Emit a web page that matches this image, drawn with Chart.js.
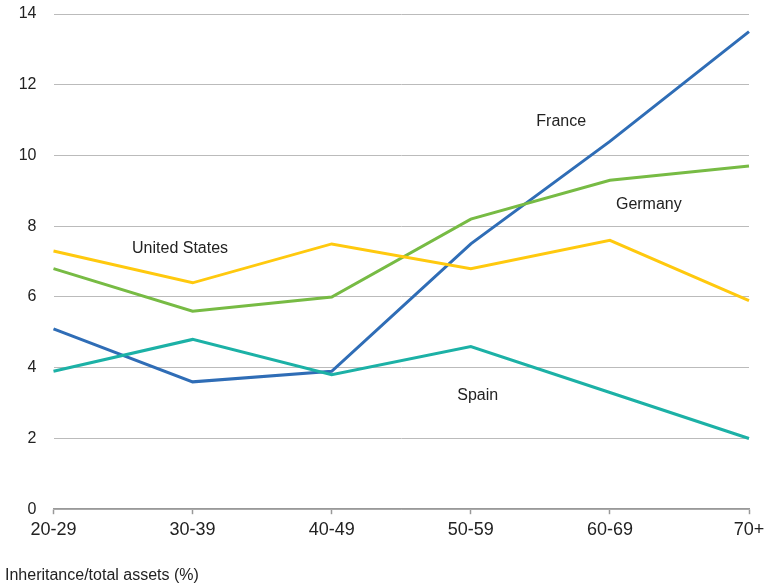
<!DOCTYPE html>
<html>
<head>
<meta charset="utf-8">
<script src="https://cdn.jsdelivr.net/npm/chart.js@4.4.1/dist/chart.umd.min.js"></script>
<style>
  html, body { margin: 0; padding: 0; background: #fff; }
  #wrap { width: 778px; height: 585px; }
</style>
</head>
<body>
<div id="wrap"><canvas id="chart" width="778" height="585"></canvas></div>
<script>
// age groups and inheritance share (%) by country
const ageGroups = ["20-29", "30-39", "40-49", "50-59", "60-69", "70+"];
const france = [5.1, 3.6, 3.9, 7.5, 10.4, 13.5];
const germany = [6.8, 5.6, 6.0, 8.2, 9.3, 9.7];
const unitedStates = [7.3, 6.4, 7.5, 6.8, 7.6, 5.9];
const spain = [3.9, 4.8, 3.8, 4.6, 3.3, 2.0];
const yTicks = [0, 2, 4, 6, 8, 10, 12, 14];

// in-chart series labels, placed in data units
const seriesLabels = [
  { text: "France", x: 3.65, y: 10.95 },
  { text: "Germany", x: 4.28, y: 8.6 },
  { text: "United States", x: 0.91, y: 7.37 },
  { text: "Spain", x: 3.05, y: 3.22 }
];

const FONT = "'Liberation Sans', Arial, sans-serif";

const labelPlugin = {
  id: "seriesLabels",
  afterDatasetsDraw(chart) {
    const { ctx, scales } = chart;
    ctx.save();
    ctx.font = "16px " + FONT;
    ctx.fillStyle = "#222";
    ctx.textAlign = "center";
    ctx.textBaseline = "middle";
    seriesLabels.forEach((l) => {
      ctx.fillText(l.text, scales.x.getPixelForValue(l.x), scales.y.getPixelForValue(l.y));
    });
    ctx.restore();
  }
};

const line = (data, color) => ({
  data: data,
  borderColor: color,
  borderWidth: 3,
  pointRadius: 0,
  tension: 0,
  fill: false
});

new Chart(document.getElementById("chart"), {
  type: "line",
  data: {
    labels: ageGroups,
    datasets: [
      line(unitedStates, "#ffc90e"),
      line(germany, "#77bb44"),
      line(spain, "#1cb1a6"),
      line(france, "#2f6db6")
    ]
  },
  options: {
    responsive: false,
    animation: false,
    layout: { padding: { left: 5, right: 29, top: 14, bottom: 0 } },
    plugins: {
      legend: { display: false },
      tooltip: { enabled: false },
      title: {
        display: true,
        position: "bottom",
        align: "start",
        text: "Inheritance/total assets (%)",
        color: "#222",
        font: { family: FONT, size: 16, weight: "normal" },
        padding: { top: 20, bottom: 0 }
      }
    },
    scales: {
      x: {
        offset: false,
        border: { display: true, color: "#999", width: 1.5 },
        grid: { drawOnChartArea: false, drawTicks: true, tickLength: 5, tickColor: "#999", tickWidth: 1.5 },
        ticks: { color: "#222", font: { family: FONT, size: 18 }, padding: 5, maxRotation: 0 }
      },
      y: {
        min: 0,
        max: 14,
        afterBuildTicks(axis) { axis.ticks = yTicks.map((v) => ({ value: v })); },
        afterFit(axis) {
          axis.width = 48.5;
          axis.paddingTop = 0;
          axis.paddingBottom = 0;
        },
        border: { display: false },
        grid: { color: "#bbb", lineWidth: 1, drawTicks: false },
        ticks: { color: "#222", font: { family: FONT, size: 16 }, padding: 17 }
      }
    }
  },
  plugins: [labelPlugin]
});
</script>
</body>
</html>
